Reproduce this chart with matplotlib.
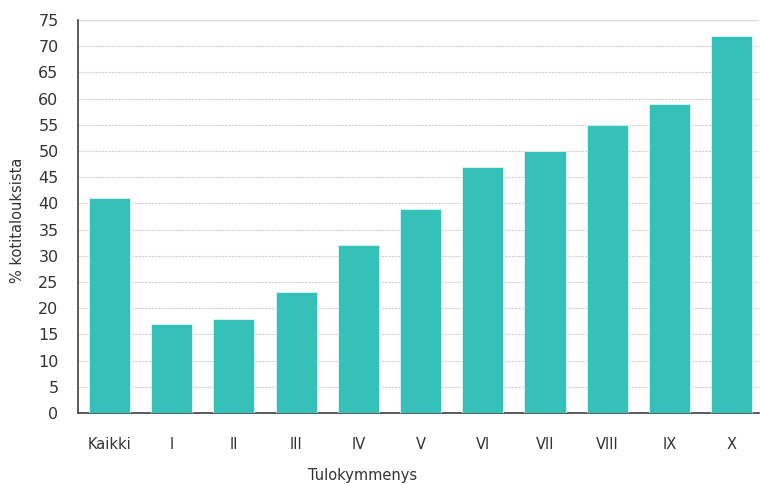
import matplotlib.pyplot as plt

categories = ['Kaikki', 'I', 'II', 'III', 'IV', 'V', 'VI', 'VII', 'VIII', 'IX', 'X']
values = [41, 17, 18, 23, 32, 39, 47, 50, 55, 59, 72]
yticks = list(range(0, 80, 5))

plt.rcParams['font.family'] = ['DejaVu Sans']
textcol = '#333333'

fig = plt.figure(figsize=(7.6, 4.84), dpi=100)
ax = fig.add_axes([78/760, 1 - 413/484, 681/760, 393/484])

x = range(len(categories))
ax.bar(x, values, width=0.66, color='#35c1b8', edgecolor='#dff5f3', linewidth=0.6, zorder=3)

ax.set_xlim(-0.506, 10.44)
ax.set_ylim(0, 75)
ax.set_yticks(yticks)
ax.set_xticks(list(x))
ax.set_xticklabels(categories)

# dotted grid, solid line at the top
for y in yticks[1:-1]:
    ax.axhline(y, color='#cfcfcf', linewidth=0.8, linestyle=(0, (2, 1)), zorder=1)
ax.axhline(75, color='#d8d8d8', linewidth=1.0, zorder=1)

for s in ['top', 'right']:
    ax.spines[s].set_visible(False)
ax.spines['left'].set_color('#404040')
ax.spines['bottom'].set_color('#404040')
ax.spines['left'].set_linewidth(1.2)
ax.spines['bottom'].set_linewidth(1.2)

ax.tick_params(axis='y', length=0, pad=14, labelsize=11.5, labelcolor=textcol)
ax.tick_params(axis='x', length=0, pad=17, labelsize=10.5, labelcolor=textcol)

ax.set_ylabel('% kotitalouksista', fontsize=10.5, color=textcol)
ax.yaxis.set_label_coords(-0.078, 0.49)
ax.set_xlabel('Tulokymmenys', fontsize=10.5, color=textcol)
ax.xaxis.set_label_coords(0.418, -0.14)

fig.savefig('out.png', dpi=100)
